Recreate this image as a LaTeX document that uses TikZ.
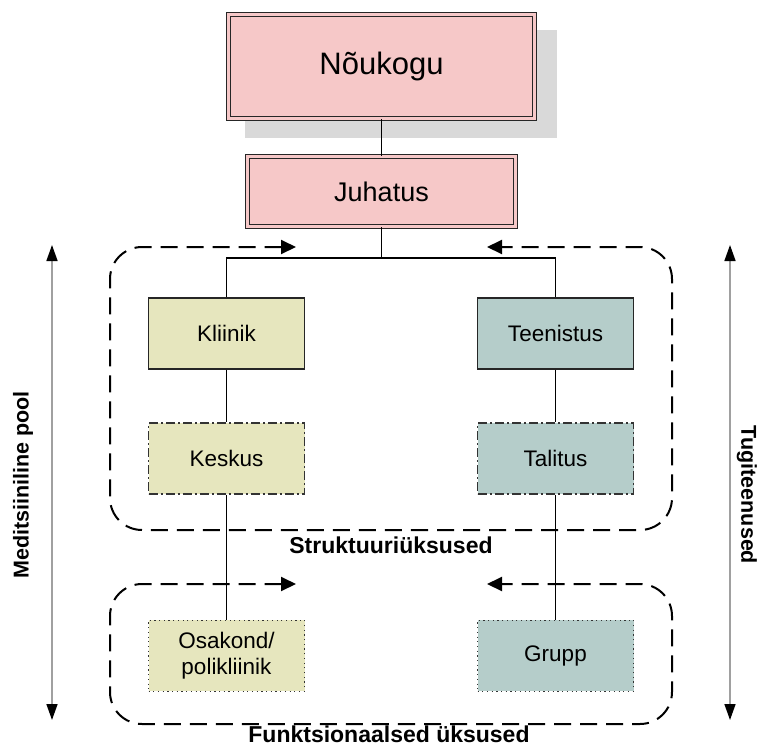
\documentclass[tikz,border=0pt]{standalone}
\usepackage{fontspec}
\setmainfont{Liberation Sans}
\usetikzlibrary{arrows.meta}

\definecolor{boardpink}{HTML}{F6C8C8}
\definecolor{clinicfill}{HTML}{E6E6BE}
\definecolor{servicefill}{HTML}{B5CDCA}
\definecolor{shadowgray}{HTML}{D9D9D9}
\definecolor{axisgray}{HTML}{A0A0A0}
\definecolor{edgegray}{HTML}{333333}

\begin{document}
\begin{tikzpicture}[x=1pt,y=-1pt,
  lead/.style={draw=black!85, double=boardpink, double distance=2.2pt, line width=1pt,
    fill=boardpink, inner sep=0pt},
  unitbox/.style={minimum width=156pt, minimum height=71pt, inner sep=0pt, align=center,
    font=\fontsize{22.5}{26}\selectfont},
  solidunit/.style={unitbox, draw=black!85, line width=1.2pt},
  dashunit/.style={unitbox, draw=edgegray, line width=1.2pt, dash pattern=on 9pt off 3pt on 2pt off 3pt},
  dotunit/.style={unitbox, draw=edgegray, line width=1pt, dash pattern=on 1.2pt off 3.5pt},
  link/.style={draw=black, line width=1.2pt},
  frameline/.style={draw=black, line width=2pt, dash pattern=on 17pt off 9pt,
    rounded corners=32pt, {Triangle[length=15pt,width=14pt]}-{Triangle[length=15pt,width=14pt]}},
  grouplabel/.style={font=\bfseries\fontsize{23}{27}\selectfont, inner sep=0pt},
  sidelabel/.style={font=\bfseries\fontsize{21.5}{25}\selectfont, inner sep=0pt},
  axis/.style={draw=axisgray, line width=1.5pt,
    {Triangle[length=16pt,width=11pt,fill=black,color=black]}-{Triangle[length=16pt,width=11pt,fill=black,color=black]}}
]
\useasboundingbox (0,0) rectangle (771,747);

% board with its drop shadow
\fill[shadowgray] (245,30) rectangle (557,138);
\node[lead, minimum width=306pt, minimum height=104pt, font=\fontsize{31}{37}\selectfont]
  (noukogu) at (381.5,66.5) {Nõukogu};
\node[lead, minimum width=268pt, minimum height=70pt, font=\fontsize{27}{32}\selectfont]
  (juhatus) at (381.5,191.5) {Juhatus};

% structural and functional units
\node[solidunit, fill=clinicfill]  (kliinik)   at (226.5,333.5) {Kliinik};
\node[solidunit, fill=servicefill] (teenistus) at (555.5,333.5) {Teenistus};
\node[dashunit, fill=clinicfill]   (keskus)    at (226.5,458.5) {Keskus};
\node[dashunit, fill=servicefill]  (talitus)   at (555.5,458.5) {Talitus};
\node[dotunit, fill=clinicfill]    (osakond)   at (226.5,655.5) {Osakond/\\polikliinik};
\node[dotunit, fill=servicefill]   (grupp)     at (555.5,655.5) {Grupp};

% hierarchy lines
\coordinate (split) at (381.5,258);
\draw[link] (noukogu) -- (juhatus);
\draw[link] (juhatus) -- (split);
\draw[link] (kliinik.north) -- (kliinik.north |- split) -- (teenistus.north |- split) -- (teenistus.north);
\draw[link] (kliinik) -- (keskus);
\draw[link] (teenistus) -- (talitus);
\draw[link] (keskus) -- (osakond);
\draw[link] (talitus) -- (grupp);

% dashed group frames, open at the top with arrows
\coordinate (sA) at (296,247);
\coordinate (sB) at (487,247);
\draw[frameline] (sA) -- (110,247) -- (110,530) -- (672,530) -- (672,247) -- (sB);
\node[grouplabel] (struct) at (391,545) {Struktuuriüksused};

\coordinate (fA) at (296,584);
\coordinate (fB) at (487,584);
\draw[frameline] (fA) -- (110,584) -- (110,724) -- (672,724) -- (672,584) -- (fB);
\node[grouplabel, anchor=base] (funk) at (389,742.5) {Funktsionaalsed üksused};

% side axes
\coordinate (medTop) at (52,245);
\coordinate (medBot) at (52,720);
\draw[axis] (medTop) -- (medBot);
\node[sidelabel, rotate=90] (medlabel) at (23,485) {Meditsiiniline pool};

\coordinate (supTop) at (730,245);
\coordinate (supBot) at (730,720);
\draw[axis] (supTop) -- (supBot);
\node[sidelabel, rotate=-90] (suplabel) at (747,495) {Tugiteenused};
\end{tikzpicture}
\end{document}
